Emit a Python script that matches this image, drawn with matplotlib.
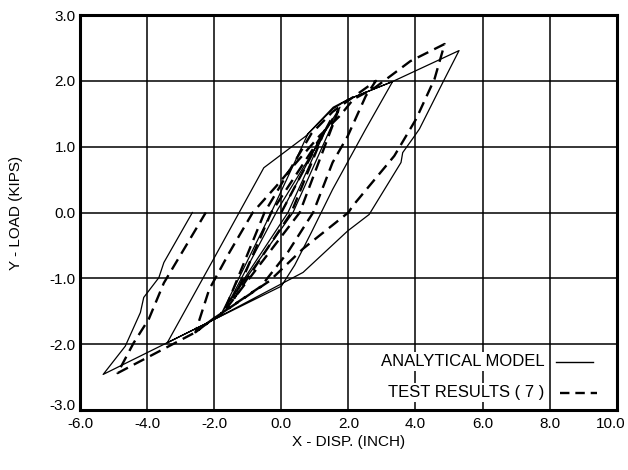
import matplotlib
matplotlib.use("Agg")
import matplotlib.pyplot as plt
import matplotlib.transforms as mtransforms

plt.rcParams['font.family'] = ['Liberation Sans', 'DejaVu Sans']

# analytical model (solid)
solid_x = [0.0, 1.45, 0.2, -1.55, -0.1, 1.75, 0.35, -1.75, -0.3, 0.8, 1.55, 2.0, 3.32,
           2.52, 1.53, 0.9, 0.4, 0.0, -2.1, -3.4, -2.0, -0.52, 0.73, 1.53, 2.0, 3.32, 5.3,
           4.82, 4.12, 3.97, 3.62, 3.57, 2.62, 1.98, 0.65, -2.1, -5.31,
           -4.65, -4.2, -4.1, -3.65, -3.5, -2.65]
solid_y = [0.0, 1.40, 0.0, -1.35, 0.05, 1.6, 0.0, -1.5, 0.0, 1.2, 1.6, 1.72, 1.99,
           1.27, 0.35, -0.3, -0.8, -1.12, -1.65, -1.98, -0.69, 0.68, 1.16, 1.57, 1.72, 1.99, 2.46,
           1.98, 1.27, 1.16, 0.91, 0.76, -0.03, -0.28, -0.91, -1.65, -2.46,
           -2.03, -1.52, -1.29, -0.99, -0.76, 0.0]

# test results (dashed)
test_x = [0.0, 1.3, 0.3, -1.4, -0.3, 1.7, 0.55, -1.7, -0.5, 0.9, 1.53, 2.82,
          2.52, 1.98, 1.53, 0.95, 0.2, -0.6, -2.07, -2.56,
          -2.15, -1.55, -0.85, -0.15, 0.45, 1.15, 1.75, 2.15, 2.8, 3.85, 4.87,
          4.57, 4.02, 3.37, 2.13, 2.0, 0.65, -0.35, -2.07, -2.56, -4.88,
          -4.4, -3.95, -3.5, -2.25]
test_y = [0.0, 1.25, 0.0, -1.3, 0.0, 1.55, 0.0, -1.5, 0.0, 1.2, 1.53, 2.0,
          1.77, 1.16, 0.76, 0.0, -0.6, -1.12, -1.63, -1.82,
          -1.17, -0.61, 0.0, 0.4, 0.76, 1.17, 1.47, 1.72, 1.9, 2.3, 2.56,
          2.03, 1.42, 0.86, 0.10, 0.0, -0.55, -1.04, -1.63, -1.82, -2.44,
          -1.98, -1.62, -1.07, 0.0]

x_ticks = [-6.0, -4.0, -2.0, 0.0, 2.0, 4.0, 6.0, 8.0, 10.0]
y_ticks = [-3.0, -2.0, -1.0, 0.0, 1.0, 2.0, 3.0]
legend_labels = ["ANALYTICAL MODEL", "TEST RESULTS ( 7 )"]

fig = plt.figure(figsize=(6.28, 4.70), dpi=100)
ax = fig.add_axes([0.1274, 0.1277, 0.8546, 0.8403])

ax.plot(solid_x, solid_y, color='black', lw=0.9, zorder=3)
ax.plot(test_x, test_y, color='black', lw=1.7, dashes=(5, 2.8), zorder=3)

ax.set_xlim(-6, 10)
ax.set_ylim(-3, 3)
ax.set_xticks(x_ticks)
ax.set_yticks(y_ticks)
ax.set_xticklabels(["%.1f" % v for v in x_ticks], fontsize=11)
ax.set_yticklabels(["%.1f" % v for v in y_ticks], fontsize=11)
ax.tick_params(axis='y', length=0, pad=3)
ax.tick_params(axis='x', length=0, pad=5)
ax.grid(True, color='black', lw=1.1)
ax.set_axisbelow(True)
for s in ax.spines.values():
    s.set_linewidth(2.2)

# pull the last x label in so it stays on the page
last = ax.get_xticklabels()[-1]
last.set_transform(last.get_transform() +
                   mtransforms.ScaledTranslation(-6 / 100, 0, fig.dpi_scale_trans))
# lift the bottom y label clear of the corner
first = ax.get_yticklabels()[0]
first.set_transform(first.get_transform() +
                    mtransforms.ScaledTranslation(0, 5 / 100, fig.dpi_scale_trans))

ax.set_xlabel("X - DISP. (INCH)", fontsize=11, labelpad=3)
ax.set_ylabel("Y - LOAD (KIPS)", fontsize=11, labelpad=19)

# legend drawn as a small table in the lower right corner
for i, lab in enumerate(legend_labels):
    yy = -2.27 - 0.47 * i
    ax.text(7.85, yy, lab, ha='right', va='center', fontsize=12, zorder=4,
            bbox=dict(facecolor='white', edgecolor='none', pad=1.5))
ax.plot([8.2, 9.3], [-2.27, -2.27], color='black', lw=1.0, zorder=4)
ax.plot([8.3, 9.4], [-2.74, -2.74], color='black', lw=1.7, dashes=(4, 2.5), zorder=4)

fig.savefig("out.png", dpi=100)
